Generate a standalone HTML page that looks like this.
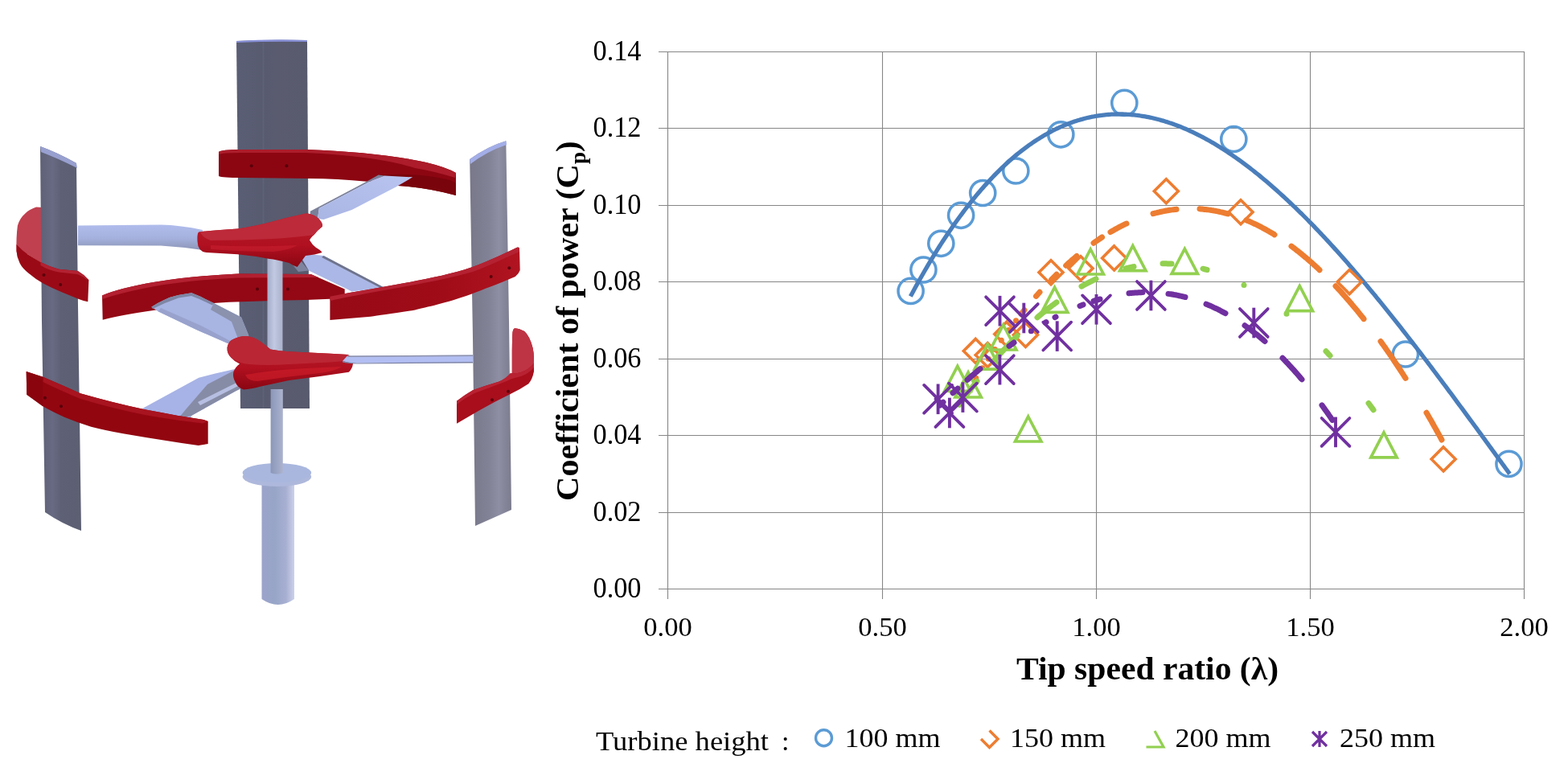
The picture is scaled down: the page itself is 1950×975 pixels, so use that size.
<!DOCTYPE html>
<html><head><meta charset="utf-8"><title>Turbine Cp chart</title>
<style>html,body{margin:0;padding:0;background:#fff;}body{width:1950px;height:975px;position:relative;overflow:hidden;}</style>
</head><body>
<svg width="1950" height="975" viewBox="0 0 1950 975" style="position:absolute;left:0;top:0">
<defs>
<linearGradient id="gBack" x1="0" x2="1" y1="0" y2="0">
<stop offset="0" stop-color="#5a5e74"/><stop offset="0.4" stop-color="#585b70"/><stop offset="0.6" stop-color="#5a5b6f"/><stop offset="1" stop-color="#585a6d"/></linearGradient>
<linearGradient id="gLeft" x1="0" x2="1" y1="0" y2="0">
<stop offset="0" stop-color="#5e6176"/><stop offset="0.3" stop-color="#676a82"/><stop offset="0.5" stop-color="#5e6176"/><stop offset="1" stop-color="#5c5f72"/></linearGradient>
<linearGradient id="gRight" x1="0" x2="1" y1="0" y2="0">
<stop offset="0" stop-color="#78788a"/><stop offset="0.45" stop-color="#828296"/><stop offset="0.7" stop-color="#8e8ea4"/><stop offset="1" stop-color="#7c7c8e"/></linearGradient>
<linearGradient id="gArm" x1="0" x2="0" y1="0" y2="1">
<stop offset="0" stop-color="#b0bcec"/><stop offset="0.55" stop-color="#a4b0dc"/><stop offset="1" stop-color="#8c95b6"/></linearGradient>
<linearGradient id="gArmB" x1="0" x2="1" y1="1" y2="0">
<stop offset="0" stop-color="#a9b5e3"/><stop offset="1" stop-color="#b9c4f0"/></linearGradient>
<linearGradient id="gShaft" x1="0" x2="1" y1="0" y2="0">
<stop offset="0" stop-color="#8c96b6"/><stop offset="0.5" stop-color="#9aa4c4"/><stop offset="1" stop-color="#acb3cc"/></linearGradient>
<linearGradient id="gCyl" x1="0" x2="1" y1="0" y2="0">
<stop offset="0" stop-color="#9ca3cb"/><stop offset="0.4" stop-color="#97a5c7"/><stop offset="0.75" stop-color="#a8b0d2"/><stop offset="1" stop-color="#cdd1eb"/></linearGradient>
<linearGradient id="gHub" x1="0" x2="0" y1="0" y2="1">
<stop offset="0" stop-color="#b8202e"/><stop offset="0.6" stop-color="#b01020"/><stop offset="1" stop-color="#8a0612"/></linearGradient>
<linearGradient id="gRingR" x1="0" x2="1" y1="0" y2="0">
<stop offset="0" stop-color="#960a16"/><stop offset="0.6" stop-color="#a00c18"/><stop offset="1" stop-color="#b01420"/></linearGradient>
<linearGradient id="gShaftU" x1="0" x2="1" y1="0" y2="0">
<stop offset="0" stop-color="#a4acc8"/><stop offset="0.45" stop-color="#c2c9e2"/><stop offset="1" stop-color="#a9b1cb"/></linearGradient>
</defs>
<g id="turbine">
<!-- back center blade -->
<path d="M294 51 Q338 49 382 50 L385 508 L299 508 Z" fill="url(#gBack)"/>
<path d="M294 51 Q338 48 382 50 L382 52 Q338 51 294 53Z" fill="#8890d8"/>
<path d="M326.5 53 H328.5 V508 H326.5Z" fill="#6a6e86" opacity="0.35"/>
<!-- top ring (back) -->
<path d="M272 189 Q275 186 300 186 L380 186 Q470 189 530 202 Q555 208 567 215 L567 243 Q530 233 495 231 Q470 226 456 225.8 Q420 222 384 222 L300 221 Q276 221 272 219 Z" fill="#8c0612"/>
<path d="M272 189 Q275 186 300 186 L380 186 Q470 189 530 202 Q555 208 567 215 L566 221 Q540 213 516 209 Q470 194 380 190 L300 190 Q276 190 272 192Z" fill="#ac1c2a"/>
<path d="M470 218 Q520 214 560 224 L567 228 L567 243 Q530 233 495 231 Z" fill="#7a040c"/>
<!-- arm B: upper hub to top ring -->
<path d="M385.8 262.8 L456 225.8 L470.7 217.5 L478 218.5 L463.4 224 L396.9 259 L395 272 L385.8 273.8 Z" fill="#7b8099"/>
<path d="M395 272 L396.9 259 L463.4 224 L478 218.5 L513.2 220.3 L492.9 232.3 L437.5 261 L402.5 273 Z" fill="url(#gArmB)"/>
<!-- upper-left ring: inner pink surface -->
<path d="M45 257.6 Q36 261 31.6 265.2 Q24 272 21.9 280.5 Q20 295 20.5 312.3 L22 320 L34 316 L53 328 L53 258 Z" fill="#c0404f"/>
<!-- left blade -->
<path d="M50 182 Q72 190 95 203 L97 380 L101 660 Q78 652 56 637 L52 400 Z" fill="url(#gLeft)"/>
<path d="M50 182 Q72 190 95 203 L96 209 Q72 197 51 189 Z" fill="#98a0d0"/>
<!-- upper-left ring: front dark face -->
<path d="M20.5 304 Q27 311 34 316 L50.5 326 Q62 332 73.2 334.7 L96.8 337 Q104 341 110.4 348.2 L109.3 375.3 Q104 374 98.1 371.9 L77.3 363.6 Q64 358 53.8 352.5 Q44 347 35.8 340 Q28 334 24.7 327.6 Q21 320 20.5 312.3 Z" fill="#9a0a16"/>
<path d="M50.5 326 Q62 332 73.2 334.7 L96.8 337 Q104 341 110.4 348.2 L107 347 Q102 343 96 341 L73 338.5 Q60 336 50.5 330 Z" fill="#b22232"/>
<!-- arm A: left blade to upper hub -->
<path d="M97 280.5 L200 279.5 Q225 280 252 286 L252 311 Q225 307 200 305.5 L97 305.3 Z" fill="url(#gArm)"/>
<!-- right blade -->
<path d="M584.2 198.1 Q606 182 629.3 175.2 L633 400 L636 634 L591 654 L588 420 Z" fill="url(#gRight)"/>
<path d="M584.2 198.1 Q606 182 629.3 175.2 L630 180 Q606 188 585 204 Z" fill="#a3aee8"/>
<!-- middle ring left piece -->
<path d="M127 367.4 Q150 358 192.3 350.8 Q240 343 295.7 340.6 L386.6 341 L428.7 359.5 L428.7 371 L380 373 Q330 374 284.6 375.7 Q230 379 192.3 385.8 Q150 392 127.7 397.8 Z" fill="#930814"/>
<path d="M127 367.4 Q150 358 192.3 350.8 Q240 343 295.7 340.6 L386.6 341 L396 345 L296 345.5 Q240 348 192.3 356 Q150 364 127.5 372 Z" fill="#b22030"/>
<!-- arm E: middle-left ring to lower hub (in front of ring bottom) -->
<path d="M188.3 381.7 Q195 377 203.1 373.4 Q212 369 221.6 367 L238.2 364.2 L249.3 368.8 L265.9 377.1 L300 394.6 L309.4 417.5 L283.2 427 L244.7 410.3 L196.6 387.2 Z" fill="#a8b4e2"/>
<path d="M196.6 387.2 L244.7 410.3 L283.2 427 L290 426 L250 405 L200 383 Z" fill="#98a2cc"/>
<path d="M265.9 377.1 L300 394.6 L309.4 417.5 L296 421 L288 400 L262 385 Z" fill="#8a92ae"/>
<path d="M188.3 381.7 Q195 377 203.1 373.4 Q212 369 221.6 367 L238.2 364.2 L249.3 368.8 L265.9 377.1 L264 379.5 L248 372 L238 368 L222 370.5 Q206 376 190 384 Z" fill="#7e86a4"/>
<!-- arm C: upper hub down-right to middle ring -->
<path d="M371 314.4 L402.5 318.1 L478.1 357.8 L437.5 362.4 L430.1 358.7 L384 336.6 Z" fill="#abb7e6"/>
<path d="M402.5 318.1 L478.1 357.8 L474 358.5 L400 320 Z" fill="#6f748c"/>
<path d="M362 310 L384 336.6 L371 338 L358 322 Z" fill="#7e849e"/>
<!-- shaft (upper) -->
<path d="M332.5 300 H351.5 V450 H332.5 Z" fill="url(#gShaftU)"/>
<!-- upper hub -->
<path d="M247.2 288.5 Q270 286 295.4 284.6 Q320 281 339 275.6 Q358 270 374.9 266.7 Q381 265 385 265.9 Q395 268 399.2 275.6 Q402 280 400.5 282 Q394 287 390.3 292.3 Q386 296 385.1 298.7 Q388 304 392.8 307.7 Q399 311 400.5 314.1 Q392 317 380 318 Q374 326 369.7 332 Q364 330 359.5 327 Q345 323 333.8 321.8 Q315 318 295.4 316.2 L256.9 314.1 Q246 313 245.5 300 Q245 290 247.2 288.5 Z" fill="url(#gHub)"/>
<path d="M249 288.3 Q270 286 295.4 284.6 Q320 281 339 275.6 Q358 270 374.9 266.7 Q381 265 385 265.9 Q395 268 399.2 275.6 Q402 280 400.5 282 Q394 287 390.3 292.3 Q370 295 340 297 Q300 299 262 299 Q252 296 249 288.3 Z" fill="#bd2a39"/>
<path d="M262 305 Q300 307 340 306 L370 305 Q360 311 340 313 Q300 313 262 310 Z" fill="#c8202e" opacity="0.6"/>
<!-- lower hub arms -->
<path d="M176 510 L178.5 507.2 L247.2 469.7 L267.7 464.6 L296.4 458 L311.8 476.9 L293.3 486.2 L238 517 L236 524 L176 516 Z" fill="#a7b3e6"/>
<path d="M311.8 476.9 L293.3 486.2 L238 517 L222 520 L232 508 L258 478 L296.4 458 Z" fill="#878ca6"/>
<path d="M246 500 L300 473 L302 477 L249 504 Z" fill="#b6bfe2"/>
<!-- lower hub -->
<path d="M282.6 432 Q284 424 290.3 421.8 Q297 418 305.6 418 Q316 419 323.6 424.4 Q330 429 336.4 434.6 Q348 437 359.5 437.2 L410.8 439.7 L432.6 441 Q439 444 439 452.6 Q438 459 433.8 462.8 L398 468 L359.5 473 L323.6 480.8 Q312 484 303 484.6 Q295 482 292.8 475.6 Q289 469 290.3 462.8 Q293 456 298 452.6 Q292 450 287.7 444.9 Q282 440 282.6 432 Z" fill="url(#gHub)"/>
<path d="M282.6 432 Q284 424 290.3 421.8 Q297 418 305.6 418 Q316 419 323.6 424.4 Q330 429 336.4 434.6 Q348 437 359.5 437.2 L410.8 439.7 L432.6 441 Q437 444 436 448 Q420 450 400 451 L360 453 Q330 455 310 453 Q298 452 287.7 444.9 Q282 440 282.6 432 Z" fill="#bb2634"/>
<path d="M305 466 Q340 460 380 458 L425 456 Q415 462 398 464 L359.5 468.5 L320 474 Q308 474 305 466 Z" fill="#cc1c2a" opacity="0.7"/>
<!-- arm G -->
<path d="M432 442.5 L588 441.5 L588 451 L440 451.5 Q432 451 426 449 Z" fill="#b2bef2"/>
<path d="M432 442.5 L588 441.5 L588 443 L432 444 Z" fill="#8e92aa"/>
<path d="M426 449 Q434 451 444 451.5 L588 450 L588 451.5 L444 452.5 Q432 452 426 450.5Z" fill="#7c82a4"/>
<!-- middle ring right piece -->
<path d="M410.4 368.8 C470 357 540 348 585.4 332.8 C610 324 630 314 643 307.8 Q646 306.5 646 310 L646.7 336 Q645 341 640.8 343.9 C620 353 600 360 585.4 366 C555 377 530 382 516.2 385.4 C490 390 470 392 460.8 393.7 L410.4 397.9 Z" fill="url(#gRingR)"/>
<path d="M410.4 368.8 C470 357 540 348 585.4 332.8 C610 324 630 314 643 307.8 Q646 306.5 646 310 L646 313 C630 320 612 329 588 338 C545 351 470 361 410.5 374 Z" fill="#b42232"/>
<!-- lower ring left piece -->
<path d="M32.7 462 L53.3 468.7 Q80 480 100 489.3 Q120 495 140 500 Q160 505 180 509.3 Q200 513 220 516.7 L253.3 522 L258.7 524 L258.7 552 L246.7 554 Q225 551 206.7 548 Q180 544 153.3 539.3 Q130 535 113.3 530.7 Q95 525 80 518.7 Q65 512 53.3 505.3 L33.3 490.7 Z" fill="#920610"/>
<path d="M53.3 468.7 Q80 480 100 489.3 Q120 495 140 500 Q160 505 180 509.3 Q200 513 220 516.7 L253.3 522 L258.7 524 L252 526.5 L220 522.5 Q200 519.5 180 516 Q160 512 140 507 Q120 502 100 496 Q78 487 53.3 475 Z" fill="#a8141f"/>
<path d="M32.7 462 L53.3 468.7 L53.3 505.3 L33.3 490.7 Z" fill="#8a040e"/>
<!-- lower ring right piece -->
<path d="M640 408 Q653 409 658 420 Q664 432 664 446 L664 462 Q662 472 657.3 477.3 Q646 485 633.3 490.7 Q612 501 593.3 512 L568 526.7 L568 498.7 Q578 491 588 485.3 Q605 479 620 474.7 Q630 471 636.8 464 L636.8 436 Q637 420 637.5 413.3 Q638 408.5 641 408 Z" fill="#a80e1c"/>
<path d="M640 408 Q653 409 658 420 Q664 432 664 446 L664 452 Q657 460 648 463 Q641 465 636.8 464 L636.8 436 Q637 420 637.5 413.3 Q638 408.5 641 408 Z" fill="#bf3444"/>
<path d="M568 498.7 Q578 491 588 485.3 Q605 479 620 474.7 Q629 471 634.7 464 Q641 465 648 463 Q657 460 664 452 L664 457 Q657 465 648 468 Q638 470 630 474 Q612 481 590 489 Q578 495 568 503 Z" fill="#b82232"/>
<g><circle cx="312.7" cy="206.3" r="2" fill="#4a0008" opacity="0.8"/><circle cx="356.4" cy="206.3" r="2" fill="#4a0008" opacity="0.8"/><circle cx="320" cy="359.5" r="2" fill="#4a0008" opacity="0.8"/><circle cx="358" cy="359.5" r="2" fill="#4a0008" opacity="0.8"/><circle cx="610.7" cy="344" r="2" fill="#4a0008" opacity="0.8"/><circle cx="633.3" cy="333.3" r="2" fill="#4a0008" opacity="0.8"/><circle cx="612" cy="497.3" r="2" fill="#4a0008" opacity="0.8"/><circle cx="632" cy="486.7" r="2" fill="#4a0008" opacity="0.8"/><circle cx="54.5" cy="342" r="2" fill="#4a0008" opacity="0.8"/><circle cx="75.2" cy="353.9" r="2" fill="#4a0008" opacity="0.8"/><circle cx="56" cy="494.7" r="2" fill="#4a0008" opacity="0.8"/><circle cx="76" cy="505.3" r="2" fill="#4a0008" opacity="0.8"/></g>
<!-- disk and lower cylinder -->
<path d="M325.5 598 L366 598 L366 745 Q345.7 759 325.5 745 Z" fill="url(#gCyl)"/>
<ellipse cx="344.4" cy="593" rx="42.8" ry="12" fill="#aeb8dc"/>
<ellipse cx="344.4" cy="588" rx="42.8" ry="12" fill="#a9b7de"/>
<path d="M336.6 484 H351.8 V588 Q344 591 336.6 588 Z" fill="url(#gShaft)"/>
</g>

<path d="M819 64.5H1896 M819 159.5H1896 M819 255.5H1896 M819 350.5H1896 M819 446.5H1896 M819 541.5H1896 M819 637.5H1896 M819 732.5H1896 M830.5 64V745 M1097.5 64V745 M1363.5 64V745 M1629.5 64V745 M1895.5 64V745" stroke="#868686" stroke-width="1.1" fill="none"/>
<text x="797.5" y="743.2" font-family="Liberation Serif, serif" font-size="36" text-anchor="end" textLength="60" lengthAdjust="spacingAndGlyphs" fill="#000">0.00</text>
<text x="797.5" y="648.2" font-family="Liberation Serif, serif" font-size="36" text-anchor="end" textLength="60" lengthAdjust="spacingAndGlyphs" fill="#000">0.02</text>
<text x="797.5" y="552.2" font-family="Liberation Serif, serif" font-size="36" text-anchor="end" textLength="60" lengthAdjust="spacingAndGlyphs" fill="#000">0.04</text>
<text x="797.5" y="457.2" font-family="Liberation Serif, serif" font-size="36" text-anchor="end" textLength="60" lengthAdjust="spacingAndGlyphs" fill="#000">0.06</text>
<text x="797.5" y="361.2" font-family="Liberation Serif, serif" font-size="36" text-anchor="end" textLength="60" lengthAdjust="spacingAndGlyphs" fill="#000">0.08</text>
<text x="797.5" y="266.2" font-family="Liberation Serif, serif" font-size="36" text-anchor="end" textLength="60" lengthAdjust="spacingAndGlyphs" fill="#000">0.10</text>
<text x="797.5" y="170.2" font-family="Liberation Serif, serif" font-size="36" text-anchor="end" textLength="60" lengthAdjust="spacingAndGlyphs" fill="#000">0.12</text>
<text x="797.5" y="75.2" font-family="Liberation Serif, serif" font-size="36" text-anchor="end" textLength="60" lengthAdjust="spacingAndGlyphs" fill="#000">0.14</text>
<text x="830.5" y="791" font-family="Liberation Serif, serif" font-size="34.5" text-anchor="middle" fill="#000">0.00</text>
<text x="1097.5" y="791" font-family="Liberation Serif, serif" font-size="34.5" text-anchor="middle" fill="#000">0.50</text>
<text x="1363.5" y="791" font-family="Liberation Serif, serif" font-size="34.5" text-anchor="middle" fill="#000">1.00</text>
<text x="1629.5" y="791" font-family="Liberation Serif, serif" font-size="34.5" text-anchor="middle" fill="#000">1.50</text>
<text x="1895.5" y="791" font-family="Liberation Serif, serif" font-size="34.5" text-anchor="middle" fill="#000">2.00</text>
<text x="1264" y="844.5" font-family="Liberation Serif, serif" font-size="40.5" font-weight="bold" textLength="326" lengthAdjust="spacingAndGlyphs" fill="#000">Tip speed ratio (λ)</text>
<text transform="translate(719,623) rotate(-90)" font-family="Liberation Serif, serif" font-size="40.5" font-weight="bold" fill="#000"><tspan textLength="419" lengthAdjust="spacingAndGlyphs">Coefficient of power (C</tspan><tspan font-size="27" dy="9">p</tspan><tspan dy="-9">)</tspan></text>
<text x="741" y="933" font-family="Liberation Serif, serif" font-size="34" textLength="215" lengthAdjust="spacingAndGlyphs" fill="#000">Turbine height</text>
<text x="972" y="933" font-family="Liberation Serif, serif" font-size="34" fill="#000">:</text>
<text x="1050.5" y="928.6" font-family="Liberation Serif, serif" font-size="34.5" textLength="119" lengthAdjust="spacingAndGlyphs" fill="#000">100 mm</text>
<text x="1256" y="928.6" font-family="Liberation Serif, serif" font-size="34.5" textLength="119" lengthAdjust="spacingAndGlyphs" fill="#000">150 mm</text>
<text x="1461.5" y="928.6" font-family="Liberation Serif, serif" font-size="34.5" textLength="119" lengthAdjust="spacingAndGlyphs" fill="#000">200 mm</text>
<text x="1666" y="928.6" font-family="Liberation Serif, serif" font-size="34.5" textLength="119" lengthAdjust="spacingAndGlyphs" fill="#000">250 mm</text>
<circle cx="1024.5" cy="917.7" r="10" fill="none" stroke="#5B9BD5" stroke-width="3.4"/>
<path d="M1230.5 908.5L1241 919L1230.5 929.5L1220 919" fill="none" stroke="#ED7D31" stroke-width="3.4" stroke-linejoin="miter"/>
<path d="M1436 909L1447 929H1425.5" fill="none" stroke="#92D050" stroke-width="3.2"/>
<path d="M1632 910L1650 928M1650 910L1632 928M1641 909V929" fill="none" stroke="#7030A0" stroke-width="3.2"/>
<g><circle cx="1132.6" cy="361.9" r="15.6" fill="none" stroke="#5B9BD5" stroke-width="3.5"/><circle cx="1148.3999999999999" cy="335.5" r="15.6" fill="none" stroke="#5B9BD5" stroke-width="3.5"/><circle cx="1170.3" cy="302.8" r="15.6" fill="none" stroke="#5B9BD5" stroke-width="3.5"/><circle cx="1195.1" cy="267.8" r="15.6" fill="none" stroke="#5B9BD5" stroke-width="3.5"/><circle cx="1222.2" cy="240.0" r="15.6" fill="none" stroke="#5B9BD5" stroke-width="3.5"/><circle cx="1263.3" cy="212.5" r="15.6" fill="none" stroke="#5B9BD5" stroke-width="3.5"/><circle cx="1319.3" cy="167.29999999999998" r="15.6" fill="none" stroke="#5B9BD5" stroke-width="3.5"/><circle cx="1398.3" cy="127.9" r="15.6" fill="none" stroke="#5B9BD5" stroke-width="3.5"/><circle cx="1534.3" cy="173.0" r="15.6" fill="none" stroke="#5B9BD5" stroke-width="3.5"/><circle cx="1747.8999999999999" cy="440.5" r="15.6" fill="none" stroke="#5B9BD5" stroke-width="3.5"/><circle cx="1876.5" cy="576.9000000000001" r="15.6" fill="none" stroke="#5B9BD5" stroke-width="3.5"/></g>
<path d="M1132.3 368.6 L1134.3 364.9 L1136.3 361.2 L1138.3 357.5 L1140.3 353.9 L1142.3 350.3 L1144.3 346.7 L1146.3 343.2 L1148.3 339.7 L1150.3 336.2 L1152.3 332.8 L1154.3 329.4 L1156.3 326.0 L1158.3 322.7 L1160.3 319.4 L1162.3 316.1 L1164.3 312.9 L1166.3 309.7 L1168.3 306.5 L1170.3 303.4 L1172.3 300.3 L1174.3 297.3 L1176.3 294.2 L1178.3 291.2 L1180.3 288.3 L1182.3 285.4 L1184.3 282.5 L1186.3 279.6 L1188.3 276.8 L1190.3 274.0 L1192.3 271.2 L1194.3 268.5 L1196.3 265.8 L1198.3 263.1 L1200.3 260.5 L1202.3 257.9 L1204.3 255.3 L1206.3 252.8 L1208.3 250.2 L1210.3 247.8 L1212.3 245.3 L1214.3 242.9 L1216.3 240.5 L1218.3 238.2 L1220.3 235.8 L1222.3 233.6 L1224.3 231.3 L1226.3 229.1 L1228.3 226.9 L1230.3 224.7 L1232.3 222.6 L1234.3 220.5 L1236.3 218.4 L1238.3 216.3 L1240.3 214.3 L1242.3 212.3 L1244.3 210.4 L1246.3 208.5 L1248.3 206.6 L1250.3 204.7 L1252.3 202.9 L1254.3 201.0 L1256.3 199.3 L1258.3 197.5 L1260.3 195.8 L1262.3 194.1 L1264.3 192.4 L1266.3 190.8 L1268.3 189.2 L1270.3 187.6 L1272.3 186.1 L1274.3 184.6 L1276.3 183.1 L1278.3 181.6 L1280.3 180.2 L1282.3 178.8 L1284.3 177.4 L1286.3 176.0 L1288.3 174.7 L1290.3 173.4 L1292.3 172.2 L1294.3 170.9 L1296.3 169.7 L1298.3 168.5 L1300.3 167.4 L1302.3 166.2 L1304.3 165.1 L1306.3 164.1 L1308.3 163.0 L1310.3 162.0 L1312.3 161.0 L1314.3 160.0 L1316.3 159.1 L1318.3 158.2 L1320.3 157.3 L1322.3 156.4 L1324.3 155.6 L1326.3 154.8 L1328.3 154.0 L1330.3 153.2 L1332.3 152.5 L1334.3 151.8 L1336.3 151.1 L1338.3 150.4 L1340.3 149.8 L1342.3 149.2 L1344.3 148.6 L1346.3 148.1 L1348.3 147.5 L1350.3 147.0 L1352.3 146.5 L1354.3 146.1 L1356.3 145.7 L1358.3 145.2 L1360.3 144.9 L1362.3 144.5 L1364.3 144.2 L1366.3 143.9 L1368.3 143.6 L1370.3 143.3 L1372.3 143.1 L1374.3 142.9 L1376.3 142.7 L1378.3 142.5 L1380.3 142.4 L1382.3 142.2 L1384.3 142.1 L1386.3 142.1 L1388.3 142.0 L1390.3 142.0 L1392.3 142.0 L1394.3 142.0 L1396.3 142.0 L1398.3 142.1 L1400.3 142.2 L1402.3 142.3 L1404.3 142.4 L1406.3 142.6 L1408.3 142.8 L1410.3 142.9 L1412.3 143.2 L1414.3 143.4 L1416.3 143.7 L1418.3 144.0 L1420.3 144.3 L1422.3 144.6 L1424.3 144.9 L1426.3 145.3 L1428.3 145.7 L1430.3 146.1 L1432.3 146.5 L1434.3 147.0 L1436.3 147.5 L1438.3 148.0 L1440.3 148.5 L1442.3 149.0 L1444.3 149.6 L1446.3 150.1 L1448.3 150.7 L1450.3 151.4 L1452.3 152.0 L1454.3 152.7 L1456.3 153.3 L1458.3 154.0 L1460.3 154.8 L1462.3 155.5 L1464.3 156.2 L1466.3 157.0 L1468.3 157.8 L1470.3 158.6 L1472.3 159.5 L1474.3 160.3 L1476.3 161.2 L1478.3 162.1 L1480.3 163.0 L1482.3 163.9 L1484.3 164.9 L1486.3 165.8 L1488.3 166.8 L1490.3 167.8 L1492.3 168.8 L1494.3 169.9 L1496.3 170.9 L1498.3 172.0 L1500.3 173.1 L1502.3 174.2 L1504.3 175.3 L1506.3 176.5 L1508.3 177.6 L1510.3 178.8 L1512.3 180.0 L1514.3 181.2 L1516.3 182.4 L1518.3 183.7 L1520.3 185.0 L1522.3 186.2 L1524.3 187.5 L1526.3 188.8 L1528.3 190.2 L1530.3 191.5 L1532.3 192.9 L1534.3 194.3 L1536.3 195.7 L1538.3 197.1 L1540.3 198.5 L1542.3 199.9 L1544.3 201.4 L1546.3 202.9 L1548.3 204.4 L1550.3 205.9 L1552.3 207.4 L1554.3 208.9 L1556.3 210.5 L1558.3 212.0 L1560.3 213.6 L1562.3 215.2 L1564.3 216.8 L1566.3 218.4 L1568.3 220.1 L1570.3 221.7 L1572.3 223.4 L1574.3 225.1 L1576.3 226.8 L1578.3 228.5 L1580.3 230.2 L1582.3 232.0 L1584.3 233.7 L1586.3 235.5 L1588.3 237.3 L1590.3 239.1 L1592.3 240.9 L1594.3 242.7 L1596.3 244.5 L1598.3 246.4 L1600.3 248.2 L1602.3 250.1 L1604.3 252.0 L1606.3 253.9 L1608.3 255.8 L1610.3 257.7 L1612.3 259.7 L1614.3 261.6 L1616.3 263.6 L1618.3 265.5 L1620.3 267.5 L1622.3 269.5 L1624.3 271.5 L1626.3 273.5 L1628.3 275.6 L1630.3 277.6 L1632.3 279.7 L1634.3 281.7 L1636.3 283.8 L1638.3 285.9 L1640.3 288.0 L1642.3 290.1 L1644.3 292.3 L1646.3 294.4 L1648.3 296.5 L1650.3 298.7 L1652.3 300.8 L1654.3 303.0 L1656.3 305.2 L1658.3 307.4 L1660.3 309.6 L1662.3 311.8 L1664.3 314.1 L1666.3 316.3 L1668.3 318.5 L1670.3 320.8 L1672.3 323.1 L1674.3 325.3 L1676.3 327.6 L1678.3 329.9 L1680.3 332.2 L1682.3 334.5 L1684.3 336.9 L1686.3 339.2 L1688.3 341.5 L1690.3 343.9 L1692.3 346.2 L1694.3 348.6 L1696.3 351.0 L1698.3 353.4 L1700.3 355.8 L1702.3 358.2 L1704.3 360.6 L1706.3 363.0 L1708.3 365.4 L1710.3 367.8 L1712.3 370.3 L1714.3 372.7 L1716.3 375.2 L1718.3 377.6 L1720.3 380.1 L1722.3 382.6 L1724.3 385.1 L1726.3 387.6 L1728.3 390.1 L1730.3 392.6 L1732.3 395.1 L1734.3 397.6 L1736.3 400.1 L1738.3 402.7 L1740.3 405.2 L1742.3 407.7 L1744.3 410.3 L1746.3 412.9 L1748.3 415.4 L1750.3 418.0 L1752.3 420.6 L1754.3 423.1 L1756.3 425.7 L1758.3 428.3 L1760.3 430.9 L1762.3 433.5 L1764.3 436.1 L1766.3 438.7 L1768.3 441.4 L1770.3 444.0 L1772.3 446.6 L1774.3 449.2 L1776.3 451.9 L1778.3 454.5 L1780.3 457.2 L1782.3 459.8 L1784.3 462.5 L1786.3 465.1 L1788.3 467.8 L1790.3 470.5 L1792.3 473.1 L1794.3 475.8 L1796.3 478.5 L1798.3 481.2 L1800.3 483.9 L1802.3 486.6 L1804.3 489.2 L1806.3 491.9 L1808.3 494.6 L1810.3 497.3 L1812.3 500.1 L1814.3 502.8 L1816.3 505.5 L1818.3 508.2 L1820.3 510.9 L1822.3 513.6 L1824.3 516.4 L1826.3 519.1 L1828.3 521.8 L1830.3 524.5 L1832.3 527.3 L1834.3 530.0 L1836.3 532.7 L1838.3 535.5 L1840.3 538.2 L1842.3 540.9 L1844.3 543.7 L1846.3 546.4 L1848.3 549.2 L1850.3 551.9 L1852.3 554.7 L1854.3 557.4 L1856.3 560.2 L1858.3 562.9 L1860.3 565.7 L1862.3 568.4 L1864.3 571.2 L1866.3 573.9 L1868.3 576.7 L1870.3 579.4 L1872.3 582.2 L1874.3 584.9 L1876.3 587.7 L1877.5 589.3" stroke="#4A7EBB" stroke-width="5.3" fill="none" stroke-linecap="butt"/>
<g><path d="M1213.3 421.4L1228.3 436.4L1213.3 451.4L1198.3 436.4Z" fill="none" stroke="#ED7D31" stroke-width="3.6"/><path d="M1228.2 426.5L1243.2 441.5L1228.2 456.5L1213.2 441.5Z" fill="none" stroke="#ED7D31" stroke-width="3.6"/><path d="M1251.8 400.4L1266.8 415.4L1251.8 430.4L1236.8 415.4Z" fill="none" stroke="#ED7D31" stroke-width="3.6"/><path d="M1275.4 401.4L1290.4 416.4L1275.4 431.4L1260.4 416.4Z" fill="none" stroke="#ED7D31" stroke-width="3.6"/><path d="M1307 323.8L1322 338.8L1307 353.8L1292 338.8Z" fill="none" stroke="#ED7D31" stroke-width="3.6"/><path d="M1344 318.8L1359 333.8L1344 348.8L1329 333.8Z" fill="none" stroke="#ED7D31" stroke-width="3.6"/><path d="M1385.6 305.9L1400.6 320.9L1385.6 335.9L1370.6 320.9Z" fill="none" stroke="#ED7D31" stroke-width="3.6"/><path d="M1450.3 222.8L1465.3 237.8L1450.3 252.8L1435.3 237.8Z" fill="none" stroke="#ED7D31" stroke-width="3.6"/><path d="M1543 248.7L1558 263.7L1543 278.7L1528 263.7Z" fill="none" stroke="#ED7D31" stroke-width="3.6"/><path d="M1678.2 335.6L1693.2 350.6L1678.2 365.6L1663.2 350.6Z" fill="none" stroke="#ED7D31" stroke-width="3.6"/><path d="M1795.1 555.9L1810.1 570.9L1795.1 585.9L1780.1 570.9Z" fill="none" stroke="#ED7D31" stroke-width="3.6"/></g>
<path d="M1213.8 470.2l0.01 0 M1221.8 457.7l0.01 0 M1229.3 446.3l0.01 0 M1237.3 434.6l0.01 0 M1245.3 423.2l0.01 0 M1254.5 410.5l0.01 0 M1263.5 398.7l0.01 0 M1270.0 390.5 L1271.5 388.6 L1273.0 386.8 L1274.0 385.6 M1288.5 368.4 L1290.0 366.7 L1291.5 365.0 L1293.0 363.3 M1307.6 347.7 L1309.1 346.2 L1310.6 344.7 L1312.1 343.2 L1313.6 341.7 L1314.0 341.3 M1325.7 330.2 L1327.2 328.8 L1328.7 327.4 L1330.2 326.1 L1331.7 324.8 L1333.2 323.4 L1334.7 322.1 L1336.2 320.9 L1337.7 319.6 L1339.0 318.5 M1360.0 302.2 L1361.5 301.1 L1363.0 300.1 L1364.5 299.1 L1366.0 298.0 L1367.5 297.0 L1369.0 296.0 L1370.5 295.0 M1381.0 288.5 L1382.5 287.7 L1384.0 286.8 L1385.5 286.0 L1387.0 285.1 L1388.5 284.3 L1390.0 283.5 L1391.5 282.7 L1393.0 281.9 L1394.5 281.2 L1396.0 280.4 L1397.5 279.7 L1399.0 278.9 L1400.5 278.2 L1401.0 278.0 M1434.0 265.7 L1435.5 265.3 L1437.0 264.9 L1438.5 264.6 L1440.0 264.2 L1441.5 263.9 L1443.0 263.5 L1444.5 263.2 L1446.0 262.9 L1447.5 262.6 L1449.0 262.3 L1450.5 262.0 L1452.0 261.8 L1453.5 261.5 L1455.0 261.3 L1456.5 261.1 L1458.0 260.9 L1459.5 260.7 L1461.0 260.5 L1462.5 260.4 L1463.0 260.3 M1492.0 259.8 L1493.5 260.0 L1495.0 260.1 L1496.5 260.2 L1498.0 260.4 L1499.5 260.5 L1501.0 260.7 L1502.5 260.9 L1504.0 261.1 L1505.5 261.3 L1507.0 261.6 L1508.5 261.8 L1510.0 262.1 L1511.5 262.3 L1513.0 262.6 L1514.5 262.9 L1516.0 263.2 L1517.5 263.6 L1519.0 263.9 L1520.5 264.2 L1522.0 264.6 L1523.5 265.0 L1525.0 265.4 L1526.5 265.8 L1527.0 265.9 M1550.0 273.8 L1551.5 274.5 L1553.0 275.1 L1554.5 275.7 L1556.0 276.4 L1557.5 277.1 L1559.0 277.8 L1560.5 278.5 L1562.0 279.2 L1563.5 279.9 L1565.0 280.7 L1566.5 281.4 L1568.0 282.2 L1569.5 283.0 L1571.0 283.8 L1572.5 284.6 L1574.0 285.4 L1575.5 286.3 L1577.0 287.1 L1578.5 288.0 L1580.0 288.8 L1581.5 289.7 L1583.0 290.6 L1584.5 291.5 L1585.0 291.9 M1606.0 306.1 L1607.5 307.2 L1609.0 308.4 L1610.5 309.5 L1612.0 310.7 L1613.5 311.9 L1615.0 313.0 L1616.5 314.2 L1618.0 315.4 L1619.5 316.7 L1621.0 317.9 L1622.5 319.2 L1624.0 320.4 L1625.5 321.7 L1627.0 323.0 L1628.5 324.3 L1630.0 325.6 L1631.5 326.9 L1633.0 328.3 L1634.5 329.6 L1636.0 331.0 L1637.5 332.4 L1639.0 333.8 L1640.5 335.2 L1641.0 335.7 M1661.0 355.8 L1662.5 357.4 L1664.0 359.0 L1665.5 360.6 L1667.0 362.2 L1668.5 363.9 L1670.0 365.6 L1671.5 367.3 L1673.0 368.9 L1674.5 370.7 L1676.0 372.4 L1677.5 374.1 L1679.0 375.9 L1680.5 377.6 L1682.0 379.4 L1683.5 381.2 L1685.0 383.0 L1686.5 384.8 L1688.0 386.6 L1689.5 388.4 L1691.0 390.3 L1692.5 392.2 L1694.0 394.0 L1695.5 395.9 L1696.0 396.6 M1717.0 424.5 L1718.5 426.6 L1720.0 428.7 L1721.5 430.8 L1723.0 432.9 L1724.5 435.1 L1726.0 437.2 L1727.5 439.4 L1729.0 441.6 L1730.5 443.8 L1732.0 446.0 L1733.5 448.2 L1735.0 450.5 L1736.5 452.7 L1738.0 455.0 L1739.5 457.2 L1741.0 459.5 L1742.5 461.8 L1744.0 464.1 L1745.5 466.5 L1747.0 468.8 L1748.0 470.4 M1774.0 513.2 L1775.5 515.8 L1777.0 518.4 L1778.5 521.0 L1780.0 523.6 L1781.5 526.3 L1783.0 528.9 L1784.5 531.6 L1786.0 534.3 L1787.5 537.0 L1789.0 539.7 L1790.5 542.4 L1792.0 545.1 L1793.0 547.0" stroke="#ED7D31" stroke-width="7" fill="none" stroke-linecap="round"/>
<g><path d="M1190.8 455.3L1207.0 486.3H1174.6Z" fill="none" stroke="#92D050" stroke-width="3.7" stroke-linejoin="miter"/><path d="M1204.1 463L1220.3 494H1187.8999999999999Z" fill="none" stroke="#92D050" stroke-width="3.7" stroke-linejoin="miter"/><path d="M1228.2 428.2L1244.4 459.2H1212.0Z" fill="none" stroke="#92D050" stroke-width="3.7" stroke-linejoin="miter"/><path d="M1247.7 404L1263.9 435H1231.5Z" fill="none" stroke="#92D050" stroke-width="3.7" stroke-linejoin="miter"/><path d="M1278.7 518L1294.9 549H1262.5Z" fill="none" stroke="#92D050" stroke-width="3.7" stroke-linejoin="miter"/><path d="M1311.6 357.3L1327.8 388.3H1295.3999999999999Z" fill="none" stroke="#92D050" stroke-width="3.7" stroke-linejoin="miter"/><path d="M1356.2 310L1372.4 341H1340.0Z" fill="none" stroke="#92D050" stroke-width="3.7" stroke-linejoin="miter"/><path d="M1408.8 305.6L1425.0 336.6H1392.6Z" fill="none" stroke="#92D050" stroke-width="3.7" stroke-linejoin="miter"/><path d="M1473.3 309.4L1489.5 340.4H1457.1Z" fill="none" stroke="#92D050" stroke-width="3.7" stroke-linejoin="miter"/><path d="M1616.3 355.6L1632.5 386.6H1600.1Z" fill="none" stroke="#92D050" stroke-width="3.7" stroke-linejoin="miter"/><path d="M1721 537.8L1737.2 568.8H1704.8Z" fill="none" stroke="#92D050" stroke-width="3.7" stroke-linejoin="miter"/></g>
<path d="M1193.0 503.2 L1194.5 501.2 L1196.0 499.1 L1197.5 497.1 L1199.0 495.0 L1200.5 493.0 L1202.0 491.0 L1203.5 489.0 L1205.0 487.0 L1206.5 485.0 L1208.0 483.1 L1209.5 481.1 L1211.0 479.2 L1212.5 477.3 L1214.0 475.4 L1215.0 474.1 M1235.0 450.0 L1236.5 448.2 L1238.0 446.5 L1239.5 444.8 L1241.0 443.1 L1242.5 441.5 L1244.0 439.8 L1245.5 438.2 L1247.0 436.5 L1248.5 434.9 L1250.0 433.3 L1251.5 431.7 L1253.0 430.1 L1254.5 428.5 L1256.0 426.9 L1257.5 425.4 L1259.0 423.9 L1260.5 422.3 L1262.0 420.8 L1263.5 419.3 L1265.0 417.8 M1290.0 394.8 L1291.5 393.5 L1293.0 392.3 L1294.5 391.0 L1296.0 389.8 L1297.5 388.6 L1299.0 387.3 L1300.5 386.1 L1302.0 385.0 L1303.5 383.8 L1305.0 382.6 L1306.5 381.5 L1308.0 380.3 L1309.5 379.2 L1311.0 378.1 L1312.5 377.0 L1314.0 375.9 M1345.0 356.1 L1346.5 355.3 L1348.0 354.5 L1349.5 353.7 L1351.0 352.9 L1352.5 352.1 L1354.0 351.4 L1355.5 350.6 L1357.0 349.9 L1358.5 349.1 L1360.0 348.4 L1361.5 347.7 L1363.0 347.0 M1400.0 333.9 L1401.5 333.5 L1403.0 333.1 L1404.5 332.8 L1406.0 332.4 L1407.5 332.1 L1409.0 331.8 L1410.0 331.6 M1446.0 327.8 L1447.5 327.8 L1449.0 327.8 L1450.5 327.8 L1452.0 327.9 L1453.5 327.9 L1455.0 328.0 L1456.5 328.0 L1457.0 328.0 M1496.0 334.2 L1497.5 334.6 L1499.0 335.0 L1500.5 335.4 L1501.0 335.5 M1547.0 354.5l0.01 0 M1600.0 390.3l0.01 0 M1649.0 436.8 L1650.5 438.4 L1652.0 440.1 L1653.5 441.7 L1654.0 442.3 M1702.0 501.5 L1703.5 503.5 L1705.0 505.6 L1706.5 507.6 L1708.0 509.7" stroke="#92D050" stroke-width="7" fill="none" stroke-linecap="round"/>
<g><path d="M1149.1999999999998 478.90000000000003L1184.0 513.7M1184.0 478.90000000000003L1149.1999999999998 513.7" stroke="#7030A0" stroke-width="3.8" stroke-linecap="round" fill="none"/><path d="M1166.6 477.5V515.1" stroke="#7030A0" stroke-width="3.9" fill="none"/><path d="M1163.5 496.1L1198.3000000000002 530.9M1198.3000000000002 496.1L1163.5 530.9" stroke="#7030A0" stroke-width="3.8" stroke-linecap="round" fill="none"/><path d="M1180.9 494.7V532.3" stroke="#7030A0" stroke-width="3.9" fill="none"/><path d="M1180.0 476.70000000000005L1214.8000000000002 511.5M1214.8000000000002 476.70000000000005L1180.0 511.5" stroke="#7030A0" stroke-width="3.8" stroke-linecap="round" fill="none"/><path d="M1197.4 475.3V512.9" stroke="#7030A0" stroke-width="3.9" fill="none"/><path d="M1226.0 442.3L1260.8000000000002 477.09999999999997M1260.8000000000002 442.3L1226.0 477.09999999999997" stroke="#7030A0" stroke-width="3.8" stroke-linecap="round" fill="none"/><path d="M1243.4 440.9V478.5" stroke="#7030A0" stroke-width="3.9" fill="none"/><path d="M1226.1 369.3L1260.9 404.09999999999997M1260.9 369.3L1226.1 404.09999999999997" stroke="#7030A0" stroke-width="3.8" stroke-linecap="round" fill="none"/><path d="M1243.5 367.9V405.5" stroke="#7030A0" stroke-width="3.9" fill="none"/><path d="M1255.8999999999999 378.1L1290.7 412.9M1290.7 378.1L1255.8999999999999 412.9" stroke="#7030A0" stroke-width="3.8" stroke-linecap="round" fill="none"/><path d="M1273.3 376.7V414.3" stroke="#7030A0" stroke-width="3.9" fill="none"/><path d="M1297.3 400.70000000000005L1332.1000000000001 435.5M1332.1000000000001 400.70000000000005L1297.3 435.5" stroke="#7030A0" stroke-width="3.8" stroke-linecap="round" fill="none"/><path d="M1314.7 399.3V436.90000000000003" stroke="#7030A0" stroke-width="3.9" fill="none"/><path d="M1346.1 367.40000000000003L1380.9 402.2M1380.9 367.40000000000003L1346.1 402.2" stroke="#7030A0" stroke-width="3.8" stroke-linecap="round" fill="none"/><path d="M1363.5 366.0V403.6" stroke="#7030A0" stroke-width="3.9" fill="none"/><path d="M1414.0 350.1L1448.8000000000002 384.9M1448.8000000000002 350.1L1414.0 384.9" stroke="#7030A0" stroke-width="3.8" stroke-linecap="round" fill="none"/><path d="M1431.4 348.7V386.3" stroke="#7030A0" stroke-width="3.9" fill="none"/><path d="M1541.8999999999999 384.1L1576.7 418.9M1576.7 384.1L1541.8999999999999 418.9" stroke="#7030A0" stroke-width="3.8" stroke-linecap="round" fill="none"/><path d="M1559.3 382.7V420.3" stroke="#7030A0" stroke-width="3.9" fill="none"/><path d="M1643.6 520.0L1678.4 554.8M1678.4 520.0L1643.6 554.8" stroke="#7030A0" stroke-width="3.8" stroke-linecap="round" fill="none"/><path d="M1661 518.6V556.1999999999999" stroke="#7030A0" stroke-width="3.9" fill="none"/></g>
<path d="M1169.0 504.0 L1170.5 502.5 L1172.0 501.1 L1173.0 500.1 M1185.0 488.7 L1186.5 487.4 L1188.0 486.0 L1189.5 484.6 L1191.0 483.2 M1203.0 472.4 L1204.5 471.1 L1206.0 469.7 L1207.5 468.4 L1209.0 467.1 L1210.5 465.8 L1212.0 464.5 L1213.5 463.2 L1215.0 462.0 L1216.5 460.7 L1218.0 459.4 L1219.0 458.6 M1255.0 430.3 L1256.5 429.3 L1258.0 428.2 L1259.5 427.1 L1261.0 426.0 M1282.3 411.8l0.01 0 M1300.0 401.2 L1301.0 400.6 M1312.0 394.6 L1313.0 394.1 M1343.0 380.5 L1344.5 379.9 L1346.0 379.3 L1347.0 378.9 M1360.0 374.4 L1361.5 373.9 L1363.0 373.5 L1364.5 373.0 L1366.0 372.6 L1367.5 372.1 L1368.0 372.0 M1404.0 364.8 L1405.5 364.6 L1407.0 364.5 L1408.5 364.3 L1410.0 364.2 L1411.5 364.1 L1413.0 364.0 L1414.5 363.9 L1416.0 363.8 L1417.5 363.7 L1419.0 363.7 L1420.5 363.6 L1421.0 363.6 M1453.0 365.4 L1454.5 365.6 L1456.0 365.8 L1457.5 366.0 L1459.0 366.3 L1460.5 366.6 L1462.0 366.8 L1463.5 367.1 L1465.0 367.4 L1466.5 367.8 L1468.0 368.1 L1469.5 368.4 L1471.0 368.8 L1472.5 369.1 L1474.0 369.5 M1500.0 378.2 L1501.5 378.8 L1503.0 379.4 L1504.5 380.0 L1506.0 380.7 L1507.5 381.4 L1509.0 382.1 L1510.5 382.8 L1512.0 383.5 L1513.5 384.2 L1515.0 384.9 L1516.5 385.7 L1518.0 386.5 L1519.5 387.3 L1521.0 388.1 L1522.5 388.9 L1524.0 389.7 M1548.0 404.8 L1549.5 405.9 L1551.0 406.9 L1552.5 408.0 L1554.0 409.1 L1555.5 410.3 L1557.0 411.4 L1558.5 412.6 L1560.0 413.7 L1561.5 414.9 L1563.0 416.1 L1564.5 417.3 L1566.0 418.6 L1567.5 419.8 L1569.0 421.1 L1570.5 422.3 L1572.0 423.6 L1573.0 424.5 M1595.0 445.3 L1596.5 446.8 L1598.0 448.4 L1599.5 450.0 L1601.0 451.5 L1602.5 453.2 L1604.0 454.8 L1605.5 456.4 L1607.0 458.1 L1608.5 459.7 L1610.0 461.4 L1611.5 463.1 L1613.0 464.8 L1614.5 466.5 L1616.0 468.3 L1617.5 470.1 L1619.0 471.8 M1644.0 503.9 L1645.5 506.0 L1647.0 508.1 L1648.5 510.2 L1650.0 512.3 L1651.5 514.4 L1653.0 516.6 L1654.5 518.8 L1656.0 521.0 L1657.0 522.4" stroke="#7030A0" stroke-width="7" fill="none" stroke-linecap="round"/>
</svg>
</body></html>
